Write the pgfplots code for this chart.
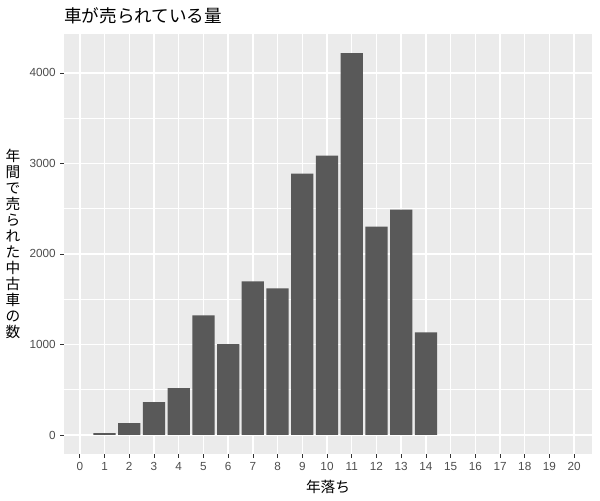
\documentclass[border=0pt]{standalone}
\usepackage{pgfplots}
\pgfplotsset{compat=1.18}
\usepackage{fontspec}
\setmainfont{Liberation Sans}
\newfontfamily\jp{Noto Sans CJK JP}

\definecolor{panel}{HTML}{EBEBEB}
\definecolor{barc}{HTML}{595959}
\definecolor{tickc}{HTML}{4D4D4D}
\definecolor{tickm}{HTML}{333333}

\begin{document}
\begin{tikzpicture}
\begin{axis}[
  width=396pt, height=315pt, scale only axis,
  at={(0,0)}, anchor=south west,
  xmin=-0.64, xmax=20.72, ymin=-210, ymax=4430,
  axis background/.style={fill=panel},
  axis line style={draw=none},
  ybar, bar width=0.9,
  xtick={0,...,20}, ytick={0,1000,2000,3000,4000},
  minor ytick={500,1500,2500,3500},
  grid=both,
  major grid style={white, line width=1.07pt},
  minor grid style={white, line width=0.53pt},
  tick pos=left, tick align=outside,
  major tick length=2.75pt, minor tick length=0pt,
  tick style={tickm, line width=0.53pt},
  tick label style={color=tickc, font=\fontsize{8.8}{10}\selectfont},
  /pgf/number format/assume math mode=true,
  /pgf/number format/1000 sep={},
]
\addplot[fill=barc, draw=none, bar shift=0] coordinates {
(1,22) (2,132) (3,364) (4,518) (5,1322) (6,1003) (7,1697)
(8,1620) (9,2887) (10,3085) (11,4220) (12,2303) (13,2490) (14,1135)
};
\end{axis}
\node[anchor=west, inner sep=0pt, font=\jp\fontsize{13.2}{15}\selectfont] at (0pt,328.5pt) {車が売られている量};
\node[align=center, inner sep=0pt, font=\jp\fontsize{11}{12}\selectfont] at (-38.25pt,157.5pt)
  {年\\間\\で\\売\\ら\\れ\\た\\中\\古\\車\\の\\数};
\node[inner sep=0pt, font=\jp\fontsize{11}{12}\selectfont] at (198pt,-24.75pt) {年落ち};
\pgfresetboundingbox
\path (-48pt,-34.5pt) rectangle (402pt,340.5pt);
\end{tikzpicture}
\end{document}
